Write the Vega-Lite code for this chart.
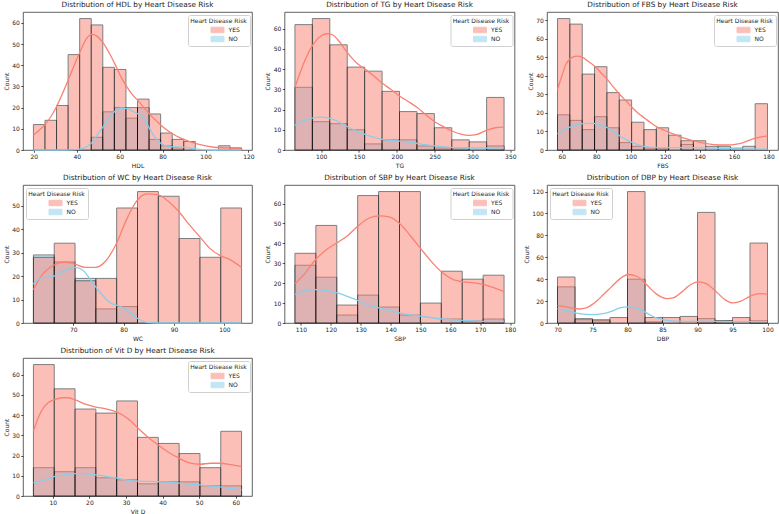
{
  "$schema": "https://vega.github.io/schema/vega-lite/v6.json",
  "background": "white",
  "padding": {"left": 2, "top": 0, "right": 0, "bottom": 0},
  "columns": 3,
  "spacing": {"row": 35, "column": 32.5},
  "bounds": "flush",
  "align": "each",
  "resolve": {
    "scale": {"x": "independent", "y": "independent", "fill": "independent", "stroke": "independent"},
    "axis": {"x": "independent", "y": "independent"},
    "legend": {"fill": "independent"}
  },
  "datasets": {
    "bins": [
      {"v":"HDL","risk":"NO","lo":46.74,"hi":52.13,"n":6},
      {"v":"HDL","risk":"NO","lo":52.13,"hi":57.52,"n":18},
      {"v":"HDL","risk":"NO","lo":57.52,"hi":62.91,"n":20},
      {"v":"HDL","risk":"NO","lo":62.91,"hi":68.3,"n":15},
      {"v":"HDL","risk":"NO","lo":68.3,"hi":73.69,"n":20},
      {"v":"HDL","risk":"NO","lo":73.69,"hi":79.08,"n":5},
      {"v":"HDL","risk":"NO","lo":79.08,"hi":84.47,"n":2},
      {"v":"HDL","risk":"NO","lo":84.47,"hi":89.86,"n":1},
      {"v":"HDL","risk":"YES","lo":19.8,"hi":25.19,"n":12},
      {"v":"HDL","risk":"YES","lo":25.19,"hi":30.58,"n":14},
      {"v":"HDL","risk":"YES","lo":30.58,"hi":35.97,"n":21},
      {"v":"HDL","risk":"YES","lo":35.97,"hi":41.36,"n":45},
      {"v":"HDL","risk":"YES","lo":41.36,"hi":46.74,"n":62},
      {"v":"HDL","risk":"YES","lo":46.74,"hi":52.13,"n":59},
      {"v":"HDL","risk":"YES","lo":52.13,"hi":57.52,"n":39},
      {"v":"HDL","risk":"YES","lo":57.52,"hi":62.91,"n":38},
      {"v":"HDL","risk":"YES","lo":62.91,"hi":68.3,"n":20},
      {"v":"HDL","risk":"YES","lo":68.3,"hi":73.69,"n":24},
      {"v":"HDL","risk":"YES","lo":73.69,"hi":79.08,"n":17},
      {"v":"HDL","risk":"YES","lo":79.08,"hi":84.47,"n":8},
      {"v":"HDL","risk":"YES","lo":84.47,"hi":89.86,"n":5},
      {"v":"HDL","risk":"YES","lo":89.86,"hi":95.24,"n":4},
      {"v":"HDL","risk":"YES","lo":106.02,"hi":111.41,"n":2},
      {"v":"HDL","risk":"YES","lo":111.41,"hi":116.8,"n":1},

      {"v":"TG","risk":"NO","lo":65.4,"hi":88.43,"n":31},
      {"v":"TG","risk":"NO","lo":88.43,"hi":111.45,"n":14},
      {"v":"TG","risk":"NO","lo":111.45,"hi":134.48,"n":13},
      {"v":"TG","risk":"NO","lo":134.48,"hi":157.5,"n":10},
      {"v":"TG","risk":"NO","lo":157.5,"hi":180.53,"n":3},
      {"v":"TG","risk":"NO","lo":180.53,"hi":203.55,"n":5},
      {"v":"TG","risk":"NO","lo":203.55,"hi":226.58,"n":5},
      {"v":"TG","risk":"NO","lo":226.58,"hi":249.6,"n":2},
      {"v":"TG","risk":"NO","lo":249.6,"hi":272.63,"n":1},
      {"v":"TG","risk":"NO","lo":272.63,"hi":295.65,"n":1},
      {"v":"TG","risk":"NO","lo":318.68,"hi":341.7,"n":2},
      {"v":"TG","risk":"YES","lo":65.4,"hi":88.43,"n":62},
      {"v":"TG","risk":"YES","lo":88.43,"hi":111.45,"n":65},
      {"v":"TG","risk":"YES","lo":111.45,"hi":134.48,"n":52},
      {"v":"TG","risk":"YES","lo":134.48,"hi":157.5,"n":41},
      {"v":"TG","risk":"YES","lo":157.5,"hi":180.53,"n":39},
      {"v":"TG","risk":"YES","lo":180.53,"hi":203.55,"n":29},
      {"v":"TG","risk":"YES","lo":203.55,"hi":226.58,"n":19},
      {"v":"TG","risk":"YES","lo":226.58,"hi":249.6,"n":18},
      {"v":"TG","risk":"YES","lo":249.6,"hi":272.63,"n":11},
      {"v":"TG","risk":"YES","lo":272.63,"hi":295.65,"n":5},
      {"v":"TG","risk":"YES","lo":295.65,"hi":318.68,"n":4},
      {"v":"TG","risk":"YES","lo":318.68,"hi":341.7,"n":26},

      {"v":"FBS","risk":"NO","lo":57.5,"hi":64.67,"n":19},
      {"v":"FBS","risk":"NO","lo":64.67,"hi":71.84,"n":16},
      {"v":"FBS","risk":"NO","lo":71.84,"hi":79.01,"n":11},
      {"v":"FBS","risk":"NO","lo":79.01,"hi":86.18,"n":18},
      {"v":"FBS","risk":"NO","lo":86.18,"hi":93.35,"n":12},
      {"v":"FBS","risk":"NO","lo":93.35,"hi":100.52,"n":4},
      {"v":"FBS","risk":"NO","lo":100.52,"hi":107.69,"n":2},
      {"v":"FBS","risk":"NO","lo":107.69,"hi":114.86,"n":1},
      {"v":"FBS","risk":"NO","lo":114.86,"hi":122.03,"n":1},
      {"v":"FBS","risk":"NO","lo":129.2,"hi":136.37,"n":3},
      {"v":"FBS","risk":"YES","lo":57.5,"hi":64.67,"n":71},
      {"v":"FBS","risk":"YES","lo":64.67,"hi":71.84,"n":68},
      {"v":"FBS","risk":"YES","lo":71.84,"hi":79.01,"n":41},
      {"v":"FBS","risk":"YES","lo":79.01,"hi":86.18,"n":45},
      {"v":"FBS","risk":"YES","lo":86.18,"hi":93.35,"n":31},
      {"v":"FBS","risk":"YES","lo":93.35,"hi":100.52,"n":27},
      {"v":"FBS","risk":"YES","lo":100.52,"hi":107.69,"n":15},
      {"v":"FBS","risk":"YES","lo":107.69,"hi":114.86,"n":11},
      {"v":"FBS","risk":"YES","lo":114.86,"hi":122.03,"n":12},
      {"v":"FBS","risk":"YES","lo":122.03,"hi":129.2,"n":8},
      {"v":"FBS","risk":"YES","lo":129.2,"hi":136.37,"n":5},
      {"v":"FBS","risk":"YES","lo":136.37,"hi":143.55,"n":5},
      {"v":"FBS","risk":"YES","lo":143.55,"hi":150.72,"n":2},
      {"v":"FBS","risk":"YES","lo":150.72,"hi":157.89,"n":2},
      {"v":"FBS","risk":"YES","lo":157.89,"hi":165.06,"n":1},
      {"v":"FBS","risk":"YES","lo":165.06,"hi":172.23,"n":2},
      {"v":"FBS","risk":"YES","lo":172.23,"hi":179.4,"n":25},

      {"v":"WC","risk":"NO","lo":62.1,"hi":66.23,"n":29},
      {"v":"WC","risk":"NO","lo":66.23,"hi":70.36,"n":26},
      {"v":"WC","risk":"NO","lo":70.36,"hi":74.49,"n":19},
      {"v":"WC","risk":"NO","lo":74.49,"hi":78.62,"n":6},
      {"v":"WC","risk":"NO","lo":78.62,"hi":82.75,"n":7},
      {"v":"WC","risk":"YES","lo":62.1,"hi":66.23,"n":28},
      {"v":"WC","risk":"YES","lo":66.23,"hi":70.36,"n":34},
      {"v":"WC","risk":"YES","lo":70.36,"hi":74.49,"n":18},
      {"v":"WC","risk":"YES","lo":74.49,"hi":78.62,"n":19},
      {"v":"WC","risk":"YES","lo":78.62,"hi":82.75,"n":49},
      {"v":"WC","risk":"YES","lo":82.75,"hi":86.88,"n":56},
      {"v":"WC","risk":"YES","lo":86.88,"hi":91.01,"n":54},
      {"v":"WC","risk":"YES","lo":91.01,"hi":95.14,"n":36},
      {"v":"WC","risk":"YES","lo":95.14,"hi":99.27,"n":28},
      {"v":"WC","risk":"YES","lo":99.27,"hi":103.4,"n":49},

      {"v":"SBP","risk":"NO","lo":108,"hi":115,"n":29},
      {"v":"SBP","risk":"NO","lo":115,"hi":122,"n":23},
      {"v":"SBP","risk":"NO","lo":122,"hi":129,"n":4},
      {"v":"SBP","risk":"NO","lo":129,"hi":136,"n":14},
      {"v":"SBP","risk":"NO","lo":136,"hi":143,"n":8},
      {"v":"SBP","risk":"NO","lo":143,"hi":150,"n":4},
      {"v":"SBP","risk":"NO","lo":157,"hi":164,"n":2},
      {"v":"SBP","risk":"NO","lo":164,"hi":171,"n":1},
      {"v":"SBP","risk":"NO","lo":171,"hi":178,"n":2},
      {"v":"SBP","risk":"YES","lo":108,"hi":115,"n":35},
      {"v":"SBP","risk":"YES","lo":115,"hi":122,"n":49},
      {"v":"SBP","risk":"YES","lo":122,"hi":129,"n":9},
      {"v":"SBP","risk":"YES","lo":129,"hi":136,"n":64},
      {"v":"SBP","risk":"YES","lo":136,"hi":143,"n":66},
      {"v":"SBP","risk":"YES","lo":143,"hi":150,"n":66},
      {"v":"SBP","risk":"YES","lo":150,"hi":157,"n":10},
      {"v":"SBP","risk":"YES","lo":157,"hi":164,"n":26},
      {"v":"SBP","risk":"YES","lo":164,"hi":171,"n":22},
      {"v":"SBP","risk":"YES","lo":171,"hi":178,"n":24},

      {"v":"DBP","risk":"NO","lo":70,"hi":72.5,"n":33},
      {"v":"DBP","risk":"NO","lo":72.5,"hi":75,"n":3},
      {"v":"DBP","risk":"NO","lo":75,"hi":77.5,"n":2},
      {"v":"DBP","risk":"NO","lo":80,"hi":82.5,"n":40},
      {"v":"DBP","risk":"NO","lo":82.5,"hi":85,"n":1},
      {"v":"DBP","risk":"NO","lo":90,"hi":92.5,"n":4},
      {"v":"DBP","risk":"NO","lo":92.5,"hi":95,"n":2},
      {"v":"DBP","risk":"NO","lo":97.5,"hi":100,"n":2},
      {"v":"DBP","risk":"YES","lo":70,"hi":72.5,"n":42},
      {"v":"DBP","risk":"YES","lo":72.5,"hi":75,"n":4},
      {"v":"DBP","risk":"YES","lo":75,"hi":77.5,"n":3},
      {"v":"DBP","risk":"YES","lo":77.5,"hi":80,"n":5},
      {"v":"DBP","risk":"YES","lo":80,"hi":82.5,"n":120},
      {"v":"DBP","risk":"YES","lo":82.5,"hi":85,"n":5},
      {"v":"DBP","risk":"YES","lo":85,"hi":87.5,"n":5},
      {"v":"DBP","risk":"YES","lo":87.5,"hi":90,"n":6},
      {"v":"DBP","risk":"YES","lo":90,"hi":92.5,"n":101},
      {"v":"DBP","risk":"YES","lo":92.5,"hi":95,"n":2},
      {"v":"DBP","risk":"YES","lo":95,"hi":97.5,"n":5},
      {"v":"DBP","risk":"YES","lo":97.5,"hi":100,"n":73},

      {"v":"Vit D","risk":"NO","lo":4.7,"hi":10.39,"n":14},
      {"v":"Vit D","risk":"NO","lo":10.39,"hi":16.08,"n":12},
      {"v":"Vit D","risk":"NO","lo":16.08,"hi":21.77,"n":14},
      {"v":"Vit D","risk":"NO","lo":21.77,"hi":27.46,"n":9},
      {"v":"Vit D","risk":"NO","lo":27.46,"hi":33.15,"n":8},
      {"v":"Vit D","risk":"NO","lo":33.15,"hi":38.84,"n":6},
      {"v":"Vit D","risk":"NO","lo":38.84,"hi":44.53,"n":7},
      {"v":"Vit D","risk":"NO","lo":44.53,"hi":50.22,"n":7},
      {"v":"Vit D","risk":"NO","lo":50.22,"hi":55.91,"n":5},
      {"v":"Vit D","risk":"NO","lo":55.91,"hi":61.6,"n":5},
      {"v":"Vit D","risk":"YES","lo":4.7,"hi":10.39,"n":65},
      {"v":"Vit D","risk":"YES","lo":10.39,"hi":16.08,"n":53},
      {"v":"Vit D","risk":"YES","lo":16.08,"hi":21.77,"n":43},
      {"v":"Vit D","risk":"YES","lo":21.77,"hi":27.46,"n":41},
      {"v":"Vit D","risk":"YES","lo":27.46,"hi":33.15,"n":47},
      {"v":"Vit D","risk":"YES","lo":33.15,"hi":38.84,"n":29},
      {"v":"Vit D","risk":"YES","lo":38.84,"hi":44.53,"n":26},
      {"v":"Vit D","risk":"YES","lo":44.53,"hi":50.22,"n":21},
      {"v":"Vit D","risk":"YES","lo":50.22,"hi":55.91,"n":14},
      {"v":"Vit D","risk":"YES","lo":55.91,"hi":61.6,"n":32}
    ],
    "kde": [
      {"v":"HDL","risk":"YES","x":19.8,"y":7},{"v":"HDL","risk":"YES","x":22.5,"y":9.3},{"v":"HDL","risk":"YES","x":25.2,"y":12},{"v":"HDL","risk":"YES","x":28,"y":15.8},{"v":"HDL","risk":"YES","x":30.6,"y":20.5},{"v":"HDL","risk":"YES","x":33.3,"y":26.5},{"v":"HDL","risk":"YES","x":36,"y":33},{"v":"HDL","risk":"YES","x":39,"y":40.5},{"v":"HDL","risk":"YES","x":41.9,"y":47.2},{"v":"HDL","risk":"YES","x":44.5,"y":52.5},{"v":"HDL","risk":"YES","x":47,"y":54.5},{"v":"HDL","risk":"YES","x":49.5,"y":53.6},{"v":"HDL","risk":"YES","x":52.3,"y":50.5},{"v":"HDL","risk":"YES","x":55,"y":46},{"v":"HDL","risk":"YES","x":57.8,"y":40.5},{"v":"HDL","risk":"YES","x":60.6,"y":34.5},{"v":"HDL","risk":"YES","x":63.5,"y":29.5},{"v":"HDL","risk":"YES","x":66,"y":26},{"v":"HDL","risk":"YES","x":68.6,"y":23.2},{"v":"HDL","risk":"YES","x":71.3,"y":20},{"v":"HDL","risk":"YES","x":74,"y":16.8},{"v":"HDL","risk":"YES","x":76.8,"y":14},{"v":"HDL","risk":"YES","x":79.6,"y":11.3},{"v":"HDL","risk":"YES","x":82.3,"y":9.2},{"v":"HDL","risk":"YES","x":85,"y":7.4},{"v":"HDL","risk":"YES","x":88,"y":5.8},{"v":"HDL","risk":"YES","x":92,"y":4.2},{"v":"HDL","risk":"YES","x":98,"y":2.4},{"v":"HDL","risk":"YES","x":104,"y":1.3},{"v":"HDL","risk":"YES","x":110,"y":1},{"v":"HDL","risk":"YES","x":116.8,"y":0.7},
      {"v":"HDL","risk":"NO","x":19.8,"y":0},{"v":"HDL","risk":"NO","x":30,"y":0},{"v":"HDL","risk":"NO","x":38,"y":0.1},{"v":"HDL","risk":"NO","x":41.9,"y":0.5},{"v":"HDL","risk":"NO","x":44.5,"y":1.5},{"v":"HDL","risk":"NO","x":47,"y":3.5},{"v":"HDL","risk":"NO","x":49.5,"y":7},{"v":"HDL","risk":"NO","x":52.3,"y":11},{"v":"HDL","risk":"NO","x":55,"y":15},{"v":"HDL","risk":"NO","x":57.8,"y":18.3},{"v":"HDL","risk":"NO","x":60.6,"y":19.8},{"v":"HDL","risk":"NO","x":63.5,"y":19.5},{"v":"HDL","risk":"NO","x":66,"y":18.3},{"v":"HDL","risk":"NO","x":68.6,"y":17},{"v":"HDL","risk":"NO","x":71.3,"y":15},{"v":"HDL","risk":"NO","x":74,"y":10},{"v":"HDL","risk":"NO","x":76.8,"y":5.5},{"v":"HDL","risk":"NO","x":79.6,"y":2.8},{"v":"HDL","risk":"NO","x":82.3,"y":1.8},{"v":"HDL","risk":"NO","x":85,"y":1.5},{"v":"HDL","risk":"NO","x":88,"y":1.4},{"v":"HDL","risk":"NO","x":91,"y":1.2},{"v":"HDL","risk":"NO","x":94,"y":0.7},{"v":"HDL","risk":"NO","x":98,"y":0.2},{"v":"HDL","risk":"NO","x":104,"y":0},{"v":"HDL","risk":"NO","x":116.8,"y":0},

      {"v":"TG","risk":"YES","x":65.4,"y":31},{"v":"TG","risk":"YES","x":72,"y":38},{"v":"TG","risk":"YES","x":79.4,"y":45},{"v":"TG","risk":"YES","x":89,"y":52},{"v":"TG","risk":"YES","x":100,"y":56.5},{"v":"TG","risk":"YES","x":108,"y":57.5},{"v":"TG","risk":"YES","x":115,"y":57},{"v":"TG","risk":"YES","x":122,"y":54.5},{"v":"TG","risk":"YES","x":135,"y":48},{"v":"TG","risk":"YES","x":147,"y":43},{"v":"TG","risk":"YES","x":158,"y":40},{"v":"TG","risk":"YES","x":170,"y":36.5},{"v":"TG","risk":"YES","x":181,"y":33},{"v":"TG","risk":"YES","x":192,"y":30},{"v":"TG","risk":"YES","x":203.5,"y":26.7},{"v":"TG","risk":"YES","x":215,"y":24},{"v":"TG","risk":"YES","x":227,"y":21},{"v":"TG","risk":"YES","x":238,"y":17.5},{"v":"TG","risk":"YES","x":250,"y":14},{"v":"TG","risk":"YES","x":262,"y":11.5},{"v":"TG","risk":"YES","x":273,"y":9.4},{"v":"TG","risk":"YES","x":285,"y":7.8},{"v":"TG","risk":"YES","x":295,"y":7.2},{"v":"TG","risk":"YES","x":305,"y":7.6},{"v":"TG","risk":"YES","x":319,"y":9.8},{"v":"TG","risk":"YES","x":330,"y":11},{"v":"TG","risk":"YES","x":341.7,"y":11.3},
      {"v":"TG","risk":"NO","x":65.4,"y":12.2},{"v":"TG","risk":"NO","x":72,"y":13.6},{"v":"TG","risk":"NO","x":79.4,"y":14.8},{"v":"TG","risk":"NO","x":89,"y":15.9},{"v":"TG","risk":"NO","x":100,"y":16.3},{"v":"TG","risk":"NO","x":111.4,"y":15.6},{"v":"TG","risk":"NO","x":123,"y":14},{"v":"TG","risk":"NO","x":135,"y":11.5},{"v":"TG","risk":"NO","x":146,"y":9.5},{"v":"TG","risk":"NO","x":158,"y":7.7},{"v":"TG","risk":"NO","x":170,"y":6.3},{"v":"TG","risk":"NO","x":181,"y":5.3},{"v":"TG","risk":"NO","x":192,"y":4.8},{"v":"TG","risk":"NO","x":203.5,"y":4.4},{"v":"TG","risk":"NO","x":215,"y":3.9},{"v":"TG","risk":"NO","x":227,"y":3.3},{"v":"TG","risk":"NO","x":238,"y":2.6},{"v":"TG","risk":"NO","x":250,"y":2},{"v":"TG","risk":"NO","x":262,"y":1.5},{"v":"TG","risk":"NO","x":273,"y":1.2},{"v":"TG","risk":"NO","x":295,"y":1},{"v":"TG","risk":"NO","x":320,"y":1},{"v":"TG","risk":"NO","x":341.7,"y":1.2},

      {"v":"FBS","risk":"YES","x":57.5,"y":32.7},{"v":"FBS","risk":"YES","x":60,"y":40},{"v":"FBS","risk":"YES","x":62.3,"y":46},{"v":"FBS","risk":"YES","x":66,"y":50},{"v":"FBS","risk":"YES","x":69,"y":50.7},{"v":"FBS","risk":"YES","x":72,"y":50},{"v":"FBS","risk":"YES","x":75.5,"y":47.8},{"v":"FBS","risk":"YES","x":79.4,"y":45},{"v":"FBS","risk":"YES","x":83,"y":41.5},{"v":"FBS","risk":"YES","x":86.5,"y":38},{"v":"FBS","risk":"YES","x":90,"y":34},{"v":"FBS","risk":"YES","x":93.7,"y":30},{"v":"FBS","risk":"YES","x":97.5,"y":26.3},{"v":"FBS","risk":"YES","x":101,"y":22.8},{"v":"FBS","risk":"YES","x":104.5,"y":19.7},{"v":"FBS","risk":"YES","x":108.4,"y":17},{"v":"FBS","risk":"YES","x":112,"y":14.5},{"v":"FBS","risk":"YES","x":115.4,"y":12.4},{"v":"FBS","risk":"YES","x":119,"y":10.8},{"v":"FBS","risk":"YES","x":122.7,"y":9.4},{"v":"FBS","risk":"YES","x":126.5,"y":8},{"v":"FBS","risk":"YES","x":130,"y":6.7},{"v":"FBS","risk":"YES","x":136.8,"y":4.9},{"v":"FBS","risk":"YES","x":144,"y":3.4},{"v":"FBS","risk":"YES","x":151.4,"y":2.7},{"v":"FBS","risk":"YES","x":158.5,"y":2.8},{"v":"FBS","risk":"YES","x":165.3,"y":4},{"v":"FBS","risk":"YES","x":172,"y":6.3},{"v":"FBS","risk":"YES","x":179.4,"y":7.6},
      {"v":"FBS","risk":"NO","x":57.5,"y":8.8},{"v":"FBS","risk":"NO","x":61,"y":10.8},{"v":"FBS","risk":"NO","x":64.8,"y":12.4},{"v":"FBS","risk":"NO","x":68.5,"y":13.5},{"v":"FBS","risk":"NO","x":72,"y":14.2},{"v":"FBS","risk":"NO","x":75.5,"y":14.4},{"v":"FBS","risk":"NO","x":79.4,"y":14.2},{"v":"FBS","risk":"NO","x":83,"y":13.3},{"v":"FBS","risk":"NO","x":86.5,"y":12},{"v":"FBS","risk":"NO","x":90,"y":10},{"v":"FBS","risk":"NO","x":93.7,"y":7.6},{"v":"FBS","risk":"NO","x":97.5,"y":5.6},{"v":"FBS","risk":"NO","x":101,"y":4},{"v":"FBS","risk":"NO","x":104.5,"y":2.8},{"v":"FBS","risk":"NO","x":108.4,"y":1.8},{"v":"FBS","risk":"NO","x":115.4,"y":1.3},{"v":"FBS","risk":"NO","x":122.7,"y":1.3},{"v":"FBS","risk":"NO","x":130,"y":1.3},{"v":"FBS","risk":"NO","x":136.8,"y":1.3},{"v":"FBS","risk":"NO","x":144,"y":1.1},{"v":"FBS","risk":"NO","x":151.4,"y":0.9},{"v":"FBS","risk":"NO","x":165,"y":0.6},{"v":"FBS","risk":"NO","x":179.4,"y":0.5},

      {"v":"WC","risk":"YES","x":62.1,"y":14.2},{"v":"WC","risk":"YES","x":63.6,"y":19.9},{"v":"WC","risk":"YES","x":65,"y":23},{"v":"WC","risk":"YES","x":66.1,"y":24.6},{"v":"WC","risk":"YES","x":68.2,"y":25.9},{"v":"WC","risk":"YES","x":70.3,"y":25.1},{"v":"WC","risk":"YES","x":72.4,"y":23.7},{"v":"WC","risk":"YES","x":74.4,"y":23.7},{"v":"WC","risk":"YES","x":76.4,"y":26.3},{"v":"WC","risk":"YES","x":78.6,"y":34},{"v":"WC","risk":"YES","x":80.7,"y":44.7},{"v":"WC","risk":"YES","x":82.6,"y":52},{"v":"WC","risk":"YES","x":84.6,"y":55},{"v":"WC","risk":"YES","x":86.7,"y":54.7},{"v":"WC","risk":"YES","x":88.9,"y":51.8},{"v":"WC","risk":"YES","x":90.9,"y":47.6},{"v":"WC","risk":"YES","x":92.9,"y":42.2},{"v":"WC","risk":"YES","x":95,"y":37},{"v":"WC","risk":"YES","x":97.1,"y":31.8},{"v":"WC","risk":"YES","x":99.1,"y":28.8},{"v":"WC","risk":"YES","x":101.1,"y":27},{"v":"WC","risk":"YES","x":103.4,"y":23.7},
      {"v":"WC","risk":"NO","x":62.1,"y":16.6},{"v":"WC","risk":"NO","x":63.6,"y":19.2},{"v":"WC","risk":"NO","x":64.9,"y":19.5},{"v":"WC","risk":"NO","x":66.1,"y":19.9},{"v":"WC","risk":"NO","x":68.2,"y":22.3},{"v":"WC","risk":"NO","x":70.3,"y":23.7},{"v":"WC","risk":"NO","x":71.8,"y":22.7},{"v":"WC","risk":"NO","x":73.4,"y":18.5},{"v":"WC","risk":"NO","x":75.4,"y":12.8},{"v":"WC","risk":"NO","x":77.4,"y":8.5},{"v":"WC","risk":"NO","x":79.3,"y":7.1},{"v":"WC","risk":"NO","x":81,"y":5},{"v":"WC","risk":"NO","x":82.6,"y":2.1},{"v":"WC","risk":"NO","x":84.6,"y":0.3},{"v":"WC","risk":"NO","x":86.7,"y":0},{"v":"WC","risk":"NO","x":95,"y":0},{"v":"WC","risk":"NO","x":103.4,"y":0},

      {"v":"SBP","risk":"YES","x":108,"y":19.7},{"v":"SBP","risk":"YES","x":111.5,"y":25.2},{"v":"SBP","risk":"YES","x":115,"y":32},{"v":"SBP","risk":"YES","x":118.7,"y":37},{"v":"SBP","risk":"YES","x":122.1,"y":40.3},{"v":"SBP","risk":"YES","x":125.5,"y":43.7},{"v":"SBP","risk":"YES","x":129.1,"y":48.7},{"v":"SBP","risk":"YES","x":132.7,"y":52.6},{"v":"SBP","risk":"YES","x":136.3,"y":53.8},{"v":"SBP","risk":"YES","x":139.5,"y":53.3},{"v":"SBP","risk":"YES","x":143.3,"y":49.6},{"v":"SBP","risk":"YES","x":146.7,"y":43.7},{"v":"SBP","risk":"YES","x":150.3,"y":37},{"v":"SBP","risk":"YES","x":154,"y":30.3},{"v":"SBP","risk":"YES","x":157.4,"y":25.2},{"v":"SBP","risk":"YES","x":161,"y":21.8},{"v":"SBP","risk":"YES","x":164.3,"y":20.7},{"v":"SBP","risk":"YES","x":168,"y":20.2},{"v":"SBP","risk":"YES","x":171.4,"y":19.3},{"v":"SBP","risk":"YES","x":174.7,"y":17.6},{"v":"SBP","risk":"YES","x":178,"y":15.8},
      {"v":"SBP","risk":"NO","x":108,"y":14.3},{"v":"SBP","risk":"NO","x":111.5,"y":16.3},{"v":"SBP","risk":"NO","x":115,"y":16.8},{"v":"SBP","risk":"NO","x":118.7,"y":16.3},{"v":"SBP","risk":"NO","x":122.1,"y":15.1},{"v":"SBP","risk":"NO","x":125.5,"y":13.4},{"v":"SBP","risk":"NO","x":129.1,"y":11.3},{"v":"SBP","risk":"NO","x":132.7,"y":8.9},{"v":"SBP","risk":"NO","x":136.3,"y":7.6},{"v":"SBP","risk":"NO","x":140,"y":6.2},{"v":"SBP","risk":"NO","x":143.3,"y":5},{"v":"SBP","risk":"NO","x":150.3,"y":3.4},{"v":"SBP","risk":"NO","x":157.4,"y":2},{"v":"SBP","risk":"NO","x":164.3,"y":1.3},{"v":"SBP","risk":"NO","x":171.4,"y":0.8},{"v":"SBP","risk":"NO","x":178,"y":0.8},

      {"v":"DBP","risk":"YES","x":70,"y":16},{"v":"DBP","risk":"YES","x":71.4,"y":14.4},{"v":"DBP","risk":"YES","x":73.1,"y":12.8},{"v":"DBP","risk":"YES","x":74.1,"y":13.7},{"v":"DBP","risk":"YES","x":75.1,"y":17.5},{"v":"DBP","risk":"YES","x":76.5,"y":25.5},{"v":"DBP","risk":"YES","x":77.7,"y":33},{"v":"DBP","risk":"YES","x":78.9,"y":40.3},{"v":"DBP","risk":"YES","x":80.1,"y":44.3},{"v":"DBP","risk":"YES","x":81.3,"y":42.7},{"v":"DBP","risk":"YES","x":82.7,"y":35.1},{"v":"DBP","risk":"YES","x":84.1,"y":26.6},{"v":"DBP","risk":"YES","x":85.6,"y":22.3},{"v":"DBP","risk":"YES","x":86.5,"y":22.9},{"v":"DBP","risk":"YES","x":87.6,"y":27.5},{"v":"DBP","risk":"YES","x":88.9,"y":34.5},{"v":"DBP","risk":"YES","x":90.1,"y":37.6},{"v":"DBP","risk":"YES","x":91.3,"y":35.7},{"v":"DBP","risk":"YES","x":92.6,"y":29},{"v":"DBP","risk":"YES","x":93.9,"y":21.4},{"v":"DBP","risk":"YES","x":95,"y":18.3},{"v":"DBP","risk":"YES","x":96.1,"y":19.8},{"v":"DBP","risk":"YES","x":97.5,"y":24.4},{"v":"DBP","risk":"YES","x":98.9,"y":26.9},{"v":"DBP","risk":"YES","x":100,"y":26},
      {"v":"DBP","risk":"NO","x":70,"y":12.8},{"v":"DBP","risk":"NO","x":71.4,"y":11.3},{"v":"DBP","risk":"NO","x":73.1,"y":8.5},{"v":"DBP","risk":"NO","x":75.1,"y":7.6},{"v":"DBP","risk":"NO","x":76.5,"y":8.5},{"v":"DBP","risk":"NO","x":77.7,"y":10.7},{"v":"DBP","risk":"NO","x":78.9,"y":13.7},{"v":"DBP","risk":"NO","x":80.1,"y":14.7},{"v":"DBP","risk":"NO","x":81.3,"y":13.7},{"v":"DBP","risk":"NO","x":82.7,"y":9.2},{"v":"DBP","risk":"NO","x":84.1,"y":4.6},{"v":"DBP","risk":"NO","x":85.6,"y":2.4},{"v":"DBP","risk":"NO","x":87.6,"y":1.5},{"v":"DBP","risk":"NO","x":90.1,"y":1.5},{"v":"DBP","risk":"NO","x":92.6,"y":1.5},{"v":"DBP","risk":"NO","x":95,"y":1.2},{"v":"DBP","risk":"NO","x":97.5,"y":1.2},{"v":"DBP","risk":"NO","x":100,"y":1.2},

      {"v":"Vit D","risk":"YES","x":4.7,"y":32.2},{"v":"Vit D","risk":"YES","x":6.8,"y":41.8},{"v":"Vit D","risk":"YES","x":8.6,"y":46},{"v":"Vit D","risk":"YES","x":10.3,"y":47.5},{"v":"Vit D","risk":"YES","x":12.7,"y":48.6},{"v":"Vit D","risk":"YES","x":14.1,"y":48.6},{"v":"Vit D","risk":"YES","x":16.1,"y":47.5},{"v":"Vit D","risk":"YES","x":19.1,"y":45.3},{"v":"Vit D","risk":"YES","x":21.8,"y":44},{"v":"Vit D","risk":"YES","x":24.5,"y":43.1},{"v":"Vit D","risk":"YES","x":27.5,"y":41.5},{"v":"Vit D","risk":"YES","x":30.4,"y":38.5},{"v":"Vit D","risk":"YES","x":33.1,"y":33.9},{"v":"Vit D","risk":"YES","x":35.8,"y":29.4},{"v":"Vit D","risk":"YES","x":38.7,"y":25.3},{"v":"Vit D","risk":"YES","x":41.7,"y":21.5},{"v":"Vit D","risk":"YES","x":44.5,"y":18.7},{"v":"Vit D","risk":"YES","x":47.3,"y":16.4},{"v":"Vit D","risk":"YES","x":50.2,"y":15.7},{"v":"Vit D","risk":"YES","x":53.1,"y":16.2},{"v":"Vit D","risk":"YES","x":55.8,"y":16.2},{"v":"Vit D","risk":"YES","x":58.5,"y":15.5},{"v":"Vit D","risk":"YES","x":61.6,"y":14.5},
      {"v":"Vit D","risk":"NO","x":4.7,"y":6.6},{"v":"Vit D","risk":"NO","x":7.7,"y":7.9},{"v":"Vit D","risk":"NO","x":10.3,"y":9.6},{"v":"Vit D","risk":"NO","x":13.2,"y":10.4},{"v":"Vit D","risk":"NO","x":16.1,"y":11.1},{"v":"Vit D","risk":"NO","x":18.6,"y":11.1},{"v":"Vit D","risk":"NO","x":21.8,"y":10.4},{"v":"Vit D","risk":"NO","x":24.9,"y":9.6},{"v":"Vit D","risk":"NO","x":27.5,"y":8.8},{"v":"Vit D","risk":"NO","x":30.4,"y":7.9},{"v":"Vit D","risk":"NO","x":33.1,"y":7.4},{"v":"Vit D","risk":"NO","x":38.7,"y":7.1},{"v":"Vit D","risk":"NO","x":44.5,"y":6.4},{"v":"Vit D","risk":"NO","x":50.2,"y":5.5},{"v":"Vit D","risk":"NO","x":55.8,"y":4.5},{"v":"Vit D","risk":"NO","x":61.6,"y":3}
    ]
  },
  "concat": [
    {
      "title": "Distribution of HDL by Heart Disease Risk",
      "width": 229, "height": 138,
      "layer": [
        {
          "data": {"name": "bins"},
          "transform": [{"filter": "datum.v === 'HDL'"}],
          "mark": {"type": "bar", "opacity": 0.5, "stroke": "#000", "strokeWidth": 1},
          "encoding": {
            "x": {"field": "lo", "type": "quantitative", "title": "HDL", "scale": {"domain": [14.95, 121.65], "nice": false, "zero": false}, "axis": {"values": [20, 40, 60, 80, 100, 120], "labelOverlap": false}},
            "x2": {"field": "hi"},
            "y": {"field": "n", "type": "quantitative", "stack": null, "title": "Count", "scale": {"domain": [0, 65.1], "nice": false}, "axis": {"values": [0, 10, 20, 30, 40, 50, 60], "labelOverlap": false}},
            "y2": {"datum": 0},
            "fill": {"field": "risk", "type": "nominal", "scale": {"domain": ["YES", "NO"], "range": ["#FA8072", "#87CEEB"]}, "legend": {"title": "Heart Disease Risk", "orient": "top-right", "symbolType": "M-1,-0.42H1V0.42H-1Z", "encode": {"symbols": {"update": {"stroke": {"value": "#000"}, "strokeWidth": {"value": 1}, "opacity": {"value": 0.55}}}}}}
          }
        },
        {
          "data": {"name": "kde"},
          "transform": [{"filter": "datum.v === 'HDL'"}],
          "mark": {"type": "line", "strokeWidth": 1.3, "interpolate": "monotone"},
          "encoding": {
            "x": {"field": "x", "type": "quantitative", "title": "HDL", "scale": {"domain": [14.95, 121.65], "nice": false, "zero": false}, "axis": {"values": [20, 40, 60, 80, 100, 120], "labelOverlap": false}},
            "y": {"field": "y", "type": "quantitative", "title": "Count", "scale": {"domain": [0, 65.1], "nice": false}, "axis": {"values": [0, 10, 20, 30, 40, 50, 60], "labelOverlap": false}},
            "stroke": {"field": "risk", "type": "nominal", "scale": {"domain": ["YES", "NO"], "range": ["#FA8072", "#87CEEB"]}, "legend": null}
          }
        }
      ]
    },
    {
      "title": "Distribution of TG by Heart Disease Risk",
      "width": 230, "height": 138,
      "layer": [
        {
          "data": {"name": "bins"},
          "transform": [{"filter": "datum.v === 'TG'"}],
          "mark": {"type": "bar", "opacity": 0.5, "stroke": "#000", "strokeWidth": 1},
          "encoding": {
            "x": {"field": "lo", "type": "quantitative", "title": "TG", "scale": {"domain": [51.6, 355.5], "nice": false, "zero": false}, "axis": {"values": [100, 150, 200, 250, 300, 350], "labelOverlap": false}},
            "x2": {"field": "hi"},
            "y": {"field": "n", "type": "quantitative", "stack": null, "title": "Count", "scale": {"domain": [0, 68.25], "nice": false}, "axis": {"values": [0, 10, 20, 30, 40, 50, 60], "labelOverlap": false}},
            "y2": {"datum": 0},
            "fill": {"field": "risk", "type": "nominal", "scale": {"domain": ["YES", "NO"], "range": ["#FA8072", "#87CEEB"]}, "legend": {"title": "Heart Disease Risk", "orient": "top-right", "symbolType": "M-1,-0.42H1V0.42H-1Z", "encode": {"symbols": {"update": {"stroke": {"value": "#000"}, "strokeWidth": {"value": 1}, "opacity": {"value": 0.55}}}}}}
          }
        },
        {
          "data": {"name": "kde"},
          "transform": [{"filter": "datum.v === 'TG'"}],
          "mark": {"type": "line", "strokeWidth": 1.3, "interpolate": "monotone"},
          "encoding": {
            "x": {"field": "x", "type": "quantitative", "title": "TG", "scale": {"domain": [51.6, 355.5], "nice": false, "zero": false}, "axis": {"values": [100, 150, 200, 250, 300, 350], "labelOverlap": false}},
            "y": {"field": "y", "type": "quantitative", "title": "Count", "scale": {"domain": [0, 68.25], "nice": false}, "axis": {"values": [0, 10, 20, 30, 40, 50, 60], "labelOverlap": false}},
            "stroke": {"field": "risk", "type": "nominal", "scale": {"domain": ["YES", "NO"], "range": ["#FA8072", "#87CEEB"]}, "legend": null}
          }
        }
      ]
    },
    {
      "title": "Distribution of FBS by Heart Disease Risk",
      "width": 231, "height": 138,
      "layer": [
        {
          "data": {"name": "bins"},
          "transform": [{"filter": "datum.v === 'FBS'"}],
          "mark": {"type": "bar", "opacity": 0.5, "stroke": "#000", "strokeWidth": 1},
          "encoding": {
            "x": {"field": "lo", "type": "quantitative", "title": "FBS", "scale": {"domain": [51.4, 185.5], "nice": false, "zero": false}, "axis": {"values": [60, 80, 100, 120, 140, 160, 180], "labelOverlap": false}},
            "x2": {"field": "hi"},
            "y": {"field": "n", "type": "quantitative", "stack": null, "title": "Count", "scale": {"domain": [0, 74.55], "nice": false}, "axis": {"values": [0, 10, 20, 30, 40, 50, 60, 70], "labelOverlap": false}},
            "y2": {"datum": 0},
            "fill": {"field": "risk", "type": "nominal", "scale": {"domain": ["YES", "NO"], "range": ["#FA8072", "#87CEEB"]}, "legend": {"title": "Heart Disease Risk", "orient": "top-right", "symbolType": "M-1,-0.42H1V0.42H-1Z", "encode": {"symbols": {"update": {"stroke": {"value": "#000"}, "strokeWidth": {"value": 1}, "opacity": {"value": 0.55}}}}}}
          }
        },
        {
          "data": {"name": "kde"},
          "transform": [{"filter": "datum.v === 'FBS'"}],
          "mark": {"type": "line", "strokeWidth": 1.3, "interpolate": "monotone"},
          "encoding": {
            "x": {"field": "x", "type": "quantitative", "title": "FBS", "scale": {"domain": [51.4, 185.5], "nice": false, "zero": false}, "axis": {"values": [60, 80, 100, 120, 140, 160, 180], "labelOverlap": false}},
            "y": {"field": "y", "type": "quantitative", "title": "Count", "scale": {"domain": [0, 74.55], "nice": false}, "axis": {"values": [0, 10, 20, 30, 40, 50, 60, 70], "labelOverlap": false}},
            "stroke": {"field": "risk", "type": "nominal", "scale": {"domain": ["YES", "NO"], "range": ["#FA8072", "#87CEEB"]}, "legend": null}
          }
        }
      ]
    },
    {
      "title": "Distribution of WC by Heart Disease Risk",
      "width": 229, "height": 138,
      "layer": [
        {
          "data": {"name": "bins"},
          "transform": [{"filter": "datum.v === 'WC'"}],
          "mark": {"type": "bar", "opacity": 0.5, "stroke": "#000", "strokeWidth": 1},
          "encoding": {
            "x": {"field": "lo", "type": "quantitative", "title": "WC", "scale": {"domain": [60.03, 105.47], "nice": false, "zero": false}, "axis": {"values": [60, 70, 80, 90, 100], "labelOverlap": false}},
            "x2": {"field": "hi"},
            "y": {"field": "n", "type": "quantitative", "stack": null, "title": "Count", "scale": {"domain": [0, 58.8], "nice": false}, "axis": {"values": [0, 10, 20, 30, 40, 50], "labelOverlap": false}},
            "y2": {"datum": 0},
            "fill": {"field": "risk", "type": "nominal", "scale": {"domain": ["YES", "NO"], "range": ["#FA8072", "#87CEEB"]}, "legend": {"title": "Heart Disease Risk", "orient": "top-left", "symbolType": "M-1,-0.42H1V0.42H-1Z", "encode": {"symbols": {"update": {"stroke": {"value": "#000"}, "strokeWidth": {"value": 1}, "opacity": {"value": 0.55}}}}}}
          }
        },
        {
          "data": {"name": "kde"},
          "transform": [{"filter": "datum.v === 'WC'"}],
          "mark": {"type": "line", "strokeWidth": 1.3, "interpolate": "monotone"},
          "encoding": {
            "x": {"field": "x", "type": "quantitative", "title": "WC", "scale": {"domain": [60.03, 105.47], "nice": false, "zero": false}, "axis": {"values": [60, 70, 80, 90, 100], "labelOverlap": false}},
            "y": {"field": "y", "type": "quantitative", "title": "Count", "scale": {"domain": [0, 58.8], "nice": false}, "axis": {"values": [0, 10, 20, 30, 40, 50], "labelOverlap": false}},
            "stroke": {"field": "risk", "type": "nominal", "scale": {"domain": ["YES", "NO"], "range": ["#FA8072", "#87CEEB"]}, "legend": null}
          }
        }
      ]
    },
    {
      "title": "Distribution of SBP by Heart Disease Risk",
      "width": 230, "height": 138,
      "layer": [
        {
          "data": {"name": "bins"},
          "transform": [{"filter": "datum.v === 'SBP'"}],
          "mark": {"type": "bar", "opacity": 0.5, "stroke": "#000", "strokeWidth": 1},
          "encoding": {
            "x": {"field": "lo", "type": "quantitative", "title": "SBP", "scale": {"domain": [104.5, 181.5], "nice": false, "zero": false}, "axis": {"values": [110, 120, 130, 140, 150, 160, 170, 180], "labelOverlap": false}},
            "x2": {"field": "hi"},
            "y": {"field": "n", "type": "quantitative", "stack": null, "title": "Count", "scale": {"domain": [0, 69.3], "nice": false}, "axis": {"values": [0, 10, 20, 30, 40, 50, 60], "labelOverlap": false}},
            "y2": {"datum": 0},
            "fill": {"field": "risk", "type": "nominal", "scale": {"domain": ["YES", "NO"], "range": ["#FA8072", "#87CEEB"]}, "legend": {"title": "Heart Disease Risk", "orient": "top-right", "symbolType": "M-1,-0.42H1V0.42H-1Z", "encode": {"symbols": {"update": {"stroke": {"value": "#000"}, "strokeWidth": {"value": 1}, "opacity": {"value": 0.55}}}}}}
          }
        },
        {
          "data": {"name": "kde"},
          "transform": [{"filter": "datum.v === 'SBP'"}],
          "mark": {"type": "line", "strokeWidth": 1.3, "interpolate": "monotone"},
          "encoding": {
            "x": {"field": "x", "type": "quantitative", "title": "SBP", "scale": {"domain": [104.5, 181.5], "nice": false, "zero": false}, "axis": {"values": [110, 120, 130, 140, 150, 160, 170, 180], "labelOverlap": false}},
            "y": {"field": "y", "type": "quantitative", "title": "Count", "scale": {"domain": [0, 69.3], "nice": false}, "axis": {"values": [0, 10, 20, 30, 40, 50, 60], "labelOverlap": false}},
            "stroke": {"field": "risk", "type": "nominal", "scale": {"domain": ["YES", "NO"], "range": ["#FA8072", "#87CEEB"]}, "legend": null}
          }
        }
      ]
    },
    {
      "title": "Distribution of DBP by Heart Disease Risk",
      "width": 231, "height": 138,
      "layer": [
        {
          "data": {"name": "bins"},
          "transform": [{"filter": "datum.v === 'DBP'"}],
          "mark": {"type": "bar", "opacity": 0.5, "stroke": "#000", "strokeWidth": 1},
          "encoding": {
            "x": {"field": "lo", "type": "quantitative", "title": "DBP", "scale": {"domain": [68.5, 101.5], "nice": false, "zero": false}, "axis": {"values": [70, 75, 80, 85, 90, 95, 100], "labelOverlap": false}},
            "x2": {"field": "hi"},
            "y": {"field": "n", "type": "quantitative", "stack": null, "title": "Count", "scale": {"domain": [0, 126], "nice": false}, "axis": {"values": [0, 20, 40, 60, 80, 100, 120], "labelOverlap": false}},
            "y2": {"datum": 0},
            "fill": {"field": "risk", "type": "nominal", "scale": {"domain": ["YES", "NO"], "range": ["#FA8072", "#87CEEB"]}, "legend": {"title": "Heart Disease Risk", "orient": "top-left", "symbolType": "M-1,-0.42H1V0.42H-1Z", "encode": {"symbols": {"update": {"stroke": {"value": "#000"}, "strokeWidth": {"value": 1}, "opacity": {"value": 0.55}}}}}}
          }
        },
        {
          "data": {"name": "kde"},
          "transform": [{"filter": "datum.v === 'DBP'"}],
          "mark": {"type": "line", "strokeWidth": 1.3, "interpolate": "monotone"},
          "encoding": {
            "x": {"field": "x", "type": "quantitative", "title": "DBP", "scale": {"domain": [68.5, 101.5], "nice": false, "zero": false}, "axis": {"values": [70, 75, 80, 85, 90, 95, 100], "labelOverlap": false}},
            "y": {"field": "y", "type": "quantitative", "title": "Count", "scale": {"domain": [0, 126], "nice": false}, "axis": {"values": [0, 20, 40, 60, 80, 100, 120], "labelOverlap": false}},
            "stroke": {"field": "risk", "type": "nominal", "scale": {"domain": ["YES", "NO"], "range": ["#FA8072", "#87CEEB"]}, "legend": null}
          }
        }
      ]
    },
    {
      "title": "Distribution of Vit D by Heart Disease Risk",
      "width": 229, "height": 138,
      "layer": [
        {
          "data": {"name": "bins"},
          "transform": [{"filter": "datum.v === 'Vit D'"}],
          "mark": {"type": "bar", "opacity": 0.5, "stroke": "#000", "strokeWidth": 1},
          "encoding": {
            "x": {"field": "lo", "type": "quantitative", "title": "Vit D", "scale": {"domain": [1.85, 64.45], "nice": false, "zero": false}, "axis": {"values": [10, 20, 30, 40, 50, 60], "labelOverlap": false}},
            "x2": {"field": "hi"},
            "y": {"field": "n", "type": "quantitative", "stack": null, "title": "Count", "scale": {"domain": [0, 68.25], "nice": false}, "axis": {"values": [0, 10, 20, 30, 40, 50, 60], "labelOverlap": false}},
            "y2": {"datum": 0},
            "fill": {"field": "risk", "type": "nominal", "scale": {"domain": ["YES", "NO"], "range": ["#FA8072", "#87CEEB"]}, "legend": {"title": "Heart Disease Risk", "orient": "top-right", "symbolType": "M-1,-0.42H1V0.42H-1Z", "encode": {"symbols": {"update": {"stroke": {"value": "#000"}, "strokeWidth": {"value": 1}, "opacity": {"value": 0.55}}}}}}
          }
        },
        {
          "data": {"name": "kde"},
          "transform": [{"filter": "datum.v === 'Vit D'"}],
          "mark": {"type": "line", "strokeWidth": 1.3, "interpolate": "monotone"},
          "encoding": {
            "x": {"field": "x", "type": "quantitative", "title": "Vit D", "scale": {"domain": [1.85, 64.45], "nice": false, "zero": false}, "axis": {"values": [10, 20, 30, 40, 50, 60], "labelOverlap": false}},
            "y": {"field": "y", "type": "quantitative", "title": "Count", "scale": {"domain": [0, 68.25], "nice": false}, "axis": {"values": [0, 10, 20, 30, 40, 50, 60], "labelOverlap": false}},
            "stroke": {"field": "risk", "type": "nominal", "scale": {"domain": ["YES", "NO"], "range": ["#FA8072", "#87CEEB"]}, "legend": null}
          }
        }
      ]
    }
  ],
  "config": {
    "font": "DejaVu Sans",
    "view": {"stroke": "#3a3a3a", "strokeWidth": 0.8},
    "title": {"font": "DejaVu Sans", "fontSize": 7.3, "fontWeight": "normal", "color": "#1a1a1a", "offset": 3.5, "anchor": "middle"},
    "axis": {
      "grid": false, "domain": false, "ticks": true,
      "tickSize": 2.2, "tickColor": "#222", "tickWidth": 0.8,
      "labelFont": "DejaVu Sans", "labelFontSize": 6, "labelColor": "#222", "labelPadding": 1.5,
      "labelFlush": false, "labelOverlap": false,
      "titleFont": "DejaVu Sans", "titleFontSize": 6, "titleFontWeight": "normal", "titleColor": "#222", "titlePadding": 2.5
    },
    "legend": {
      "titleFont": "DejaVu Sans", "titleFontSize": 6, "titleFontWeight": "normal", "titleColor": "#222", "titleAnchor": "middle", "titlePadding": 2,
      "labelFont": "DejaVu Sans", "labelFontSize": 6, "labelColor": "#222",
      "symbolSize": 169, "symbolStrokeColor": "#000", "symbolStrokeWidth": 1,
      "symbolOffset": 14, "labelOffset": 4, "clipHeight": 9, "rowPadding": 0,
      "padding": 2.5, "offset": 2.5, "cornerRadius": 2,
      "strokeColor": "#d0d0d0", "fillColor": "rgba(255,255,255,0.8)"
    }
  }
}
